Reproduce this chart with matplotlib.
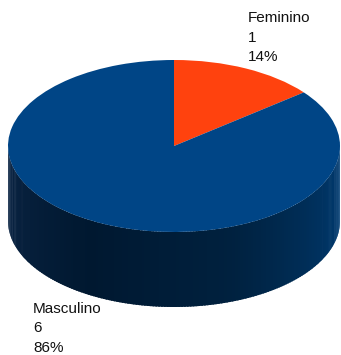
import matplotlib

matplotlib.use("Agg")

import matplotlib.pyplot as plt
import numpy as np
from matplotlib.colors import to_rgb
from matplotlib.patches import Polygon

labels = ["Feminino", "Masculino"]
counts = [1, 6]
colors = ["#ff420e", "#004586"]

W, H = 341, 355
cx, cy = 174, 146      # centre of the top face, px
rx, ry = 166, 86       # semi axes of the top face, px
depth = 75             # height of the cylinder wall, px

fig = plt.figure(figsize=(W / 100, H / 100), dpi=100)
fig.patch.set_facecolor("white")

# top face: an ordinary pie stretched into an ellipse by an auto-aspect axes
ax = fig.add_axes([(cx - rx) / W, 1 - (cy + ry + depth) / H, 2 * rx / W, (2 * ry + depth) / H])
wedges, _ = ax.pie(counts, colors=colors, startangle=90, counterclock=False,
                   wedgeprops=dict(linewidth=0, antialiased=True))
for w in wedges:
    w.set_zorder(3)
ax.set_aspect("auto")
ax.set_xlim(-1, 1)
ax.set_ylim(-1 - depth / ry, 1)
ax.axis("off")

# side wall: only the front half (180..360 deg) is visible
dz = depth / ry
side_stops = [(180, "#0b2545"), (240, "#001830"), (290, "#00213f"), (360, "#003d75")]
stop_t = [s[0] for s in side_stops]
stop_c = np.array([to_rgb(s[1]) for s in side_stops])


def side_colour(t):
    t = t % 360
    return [np.interp(t, stop_t, stop_c[:, k]) for k in range(3)]


for w in wedges:
    for k in (-1, 0, 1):
        lo = max(w.theta1, 180 + 360 * k)
        hi = min(w.theta2, 360 + 360 * k)
        if hi <= lo:
            continue
        steps = np.linspace(lo, hi, int(hi - lo) + 2)
        for a, b in zip(steps[:-1], steps[1:]):
            ts = np.radians(np.linspace(a, min(b + 0.6, hi), 4))
            top = np.column_stack([np.cos(ts), np.sin(ts)])
            bot = top[::-1] - [0, dz]
            ax.add_patch(Polygon(np.vstack([top, bot]), closed=True,
                                 facecolor=side_colour((a + b) / 2), edgecolor="none", zorder=1))

txt = dict(fontsize=11, family=["Liberation Sans", "DejaVu Sans"], color="#111111",
           linespacing=1.5, va="top", ha="left")
shares = [c / sum(counts) for c in counts]
fig.text(248 / W, 1 - 11 / H, f"{labels[0]}\n{counts[0]}\n{shares[0]:.0%}", **txt)
fig.text(33 / W, 1 - 302 / H, f"{labels[1]}\n{counts[1]}\n{shares[1]:.0%}", **txt)

fig.savefig("out.png", dpi=100, facecolor="white")
